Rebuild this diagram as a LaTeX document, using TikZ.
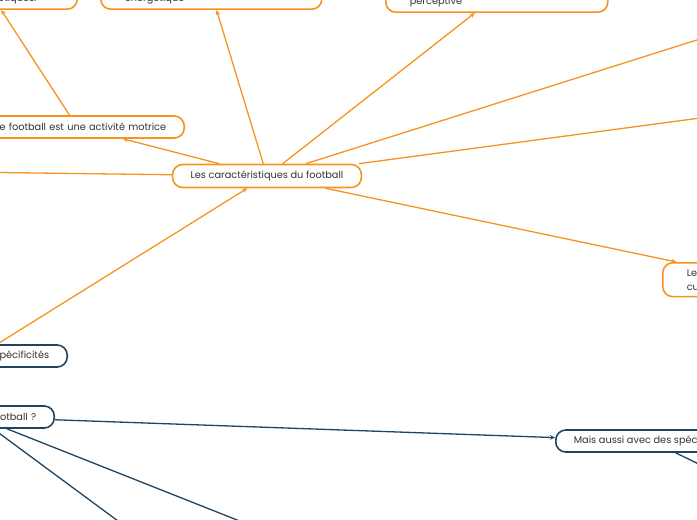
\documentclass[tikz,border=0pt]{standalone}
\usepackage{fontspec}
\setmainfont{Poppins}
\usetikzlibrary{arrows.meta, positioning}

\definecolor{mmorange}{HTML}{F7931E}
\definecolor{mmblue}{HTML}{1F4562}
\definecolor{mmtext}{HTML}{333333}

\begin{document}
\begin{tikzpicture}[
    x=1bp, y=-1bp,
    >={Stealth[length=5bp, width=4.5bp]},
    topic/.style={
        draw,
        rounded corners=10bp,
        line width=1.6bp,
        fill=white,
        text=mmtext,
        font=\fontsize{9.8}{14}\selectfont,
        inner xsep=18bp,
        inner ysep=5bp,
        minimum height=22bp
    },
    otopic/.style={topic, draw=mmorange},
    btopic/.style={topic, draw=mmblue},
    oline/.style={draw=mmorange, line width=1.3bp},
    bline/.style={draw=mmblue, line width=1.3bp}
]
\useasboundingbox (0,0) rectangle (697,520);
\clip (0,0) rectangle (697,520);

% ---------------- ORANGE BRANCH ----------------
\node[otopic, minimum height=23bp]                                     (CAR) at (267,176) {Les caractéristiques du football};
\node[otopic, anchor=east, text width=178bp, align=right]              (MOT) at (185,127) {Le football est une activité motrice};
\node[otopic, anchor=south east, text width=65bp, align=left,
      text height=16bp, text depth=3bp, inner xsep=24bp]               (TAC) at (78,10)   {tactiques.};
\node[otopic, anchor=south west, text width=173bp, align=left,
      text height=20bp, text depth=3bp, inner xsep=24bp]               (ENE) at (100,10)  {énergétique};
\node[otopic, anchor=south west, text width=174bp, align=left,
      text height=20bp, text depth=3bp, inner xsep=24bp]               (PER) at (385,13)  {perceptive};
\node[otopic, anchor=north west, text width=148bp, align=left,
      inner xsep=24bp, inner ysep=6.5bp]                               (CUL) at (662,262) {Le\\cu};

% free ends
\coordinate (R1) at (760,20);
\coordinate (R2) at (760,110);
\coordinate (L1) at (-40,172);

% ---------------- BLUE BRANCH ----------------
\node[btopic, anchor=east, text width=142bp, align=right]              (SPE) at (68,356)  {spécificités};
\node[btopic, anchor=east, text width=118bp, align=right]              (QUE) at (55,417)  {football ?};
\node[btopic, anchor=west]                                             (MAI) at (555,441) {Mais aussi avec des spécificités};

% free ends
\coordinate (B1) at (160,552);
\coordinate (B2) at (280,537);
\coordinate (M1) at (740,484);

% Orange connectors
\draw[oline, ->] (CAR) -- (MOT);
\draw[oline, ->] (CAR) -- (ENE);
\draw[oline, ->] (CAR) -- (PER);
\draw[oline, ->] (CAR) -- (CUL);
\draw[oline]     (CAR) -- (R1);
\draw[oline]     (CAR) -- (R2);
\draw[oline]     (CAR) -- (L1);
\draw[oline, ->] (MOT) -- ([xshift=-19.5bp]TAC.south);
\draw[oline, ->] (SPE) -- (CAR);

% Blue connectors
\draw[bline, ->] (QUE) -- (MAI);
\draw[bline]     (QUE) -- (B1);
\draw[bline]     (QUE) -- (B2);
\draw[bline]     (MAI) -- (M1);

\end{tikzpicture}
\end{document}
